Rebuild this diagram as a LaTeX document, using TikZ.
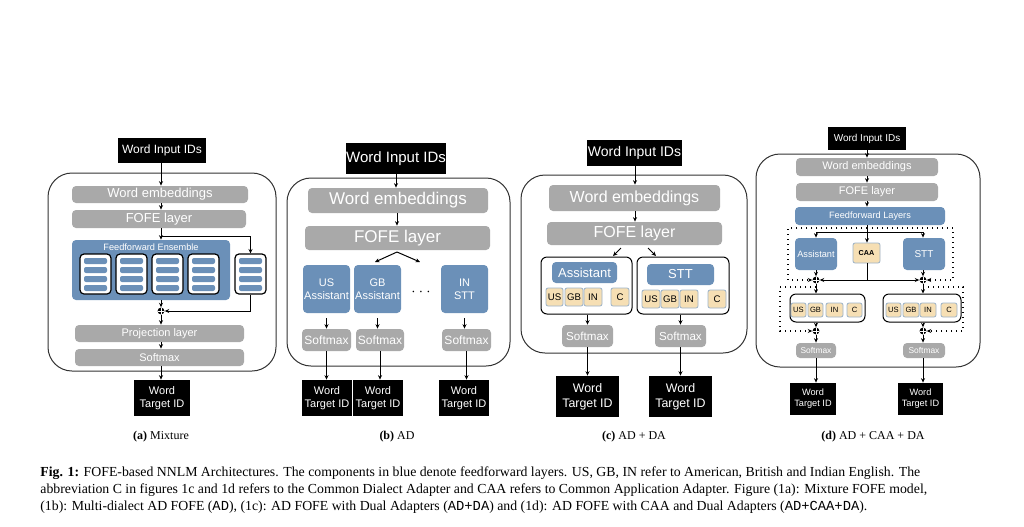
\documentclass[tikz,border=0pt]{standalone}
\usepackage{fontspec}
\setmainfont{Liberation Serif}
\setsansfont{Liberation Sans}
\setmonofont{Liberation Mono}
\usetikzlibrary{arrows.meta}
\definecolor{lgray}{HTML}{A9A9A9}
\definecolor{ffblue}{HTML}{6B90B8}
\definecolor{chipc}{HTML}{F6DFB4}
\definecolor{chipb}{HTML}{9DB3C8}
% box from pixel corners
\newcommand{\bx}[7]{\node[#2, minimum width={(#5-#3)*0.5pt}, minimum height={(#6-#4)*0.5pt}] (#1) at ({(#3+#5)/2},{(#4+#6)/2}) {#7};}
\tikzset{
  fs/.style={font=\sffamily\fontsize{#1}{\the\dimexpr #1pt*6/5\relax}\selectfont},
  blk/.style={fill=black, text=white, inner sep=0pt, align=center},
  gry/.style={fill=lgray, text=white, inner sep=0pt, rounded corners=2pt, align=center},
  blu/.style={fill=ffblue, text=white, inner sep=0pt, rounded corners=2pt, align=center},
  chip/.style={fill=chipc, draw=chipb, line width=0.4pt, text=black, inner sep=0pt, rounded corners=1pt},
  wbox/.style={fill=white, draw=black, line width=0.6pt, rounded corners=2pt, inner sep=0pt},
  grp/.style={draw=black, line width=0.5pt, rounded corners=3pt, inner sep=0pt},
  outer/.style={draw=black!80, line width=0.5pt, rounded corners=12pt, inner sep=0pt},
  arr/.style={-{Stealth[length=2.2pt,width=2pt]}, line width=0.5pt},
  dotarr/.style={arr, dotted, line width=0.6pt},
  plus/.style={circle, fill=black, minimum size=3.4pt, inner sep=0pt,
    path picture={\draw[white, line width=0.5pt] (path picture bounding box.north) -- (path picture bounding box.south)
      (path picture bounding box.west) -- (path picture bounding box.east);}},
}
\begin{document}
\begin{tikzpicture}[x=0.5pt, y=-0.5pt]
\useasboundingbox[fill=white] (0,0) rectangle (1024,526);

% (a) Mixture
\bx{boxA}{outer}{48}{173}{276}{371}{}
\bx{inA}{blk, fs=6}{118}{138}{206}{163}{Word Input IDs}
\bx{embA}{gry, fs=6.5}{72}{186}{248}{203}{Word embeddings}
\bx{fofeA}{gry, fs=6.5}{72}{210}{246}{228}{FOFE layer}
\bx{ensA}{blu}{72}{240}{230}{300}{}
\node[fs=4.6, text=white] (ensT) at (151,247) {Feedforward Ensemble};
\foreach \i/\x in {1/80,2/116,3/152,4/188,5/235}{
  \bx{ffA\i}{wbox}{\x}{254}{\x+31}{294}{}
  \foreach \y in {258,267,276,285}
    \fill[ffblue, rounded corners=1pt] (\x+4,\y) rectangle (\x+27,\y+6);
}
\node[plus] (pA) at (161,311) {};
\bx{projA}{gry, fs=5.5}{75}{325}{244}{342}{Projection layer}
\bx{smA}{gry, fs=5.5}{75}{349}{244}{366}{Softmax}
\bx{outA}{blk, fs=5.5}{134}{380}{190}{416}{Word\\Target ID}
\coordinate (brA) at (161,236);
\draw[arr] (pA |- inA.south) -- (pA |- embA.north);
\draw[arr] (pA |- embA.south) -- (pA |- fofeA.north);
\draw[arr] (pA |- fofeA.south) -- (pA |- ensA.north);
\draw[arr] (brA) -| (ffA5.north);
\draw[arr] (pA |- ensA.south) -- (pA);
\draw[arr] (ffA5.south) |- (pA.east);
\draw[arr] (pA) -- (pA |- projA.north);
\draw[arr] (pA |- projA.south) -- (pA |- smA.north);
\draw[arr] (pA |- smA.south) -- (pA |- outA.north);
\node[font=\fontsize{6}{7}\selectfont] (capA) at (161,437) {\textbf{(a)} Mixture};

% (b) AD
\bx{boxB}{outer}{287}{178}{510}{366}{}
\bx{inB}{blk, fs=7.5}{346}{143}{446}{174}{Word Input IDs}
\bx{embB}{gry, fs=8.5}{308}{188}{488}{213}{Word embeddings}
\bx{fofeB}{gry, fs=8.5}{305}{226}{490}{250}{FOFE layer}
\bx{usB}{blu, fs=5.5}{303}{265}{350}{313}{US\\Assistant}
\bx{gbB}{blu, fs=5.5}{354}{265}{401}{313}{GB\\Assistant}
\node[fs=7] (dotB) at (421,292) {$\cdots$};
\bx{inB2}{blu, fs=5.5}{441}{265}{488}{313}{IN\\STT}
\coordinate (brB) at (397,252);
\draw[arr] (inB) -- (inB |- embB.north);
\draw[arr] (brB |- embB.south) -- (brB |- fofeB.north);
\draw[arr] (brB) -- (375,262);
\draw[arr] (brB) -- (420,262);
\foreach \n/\a/\b in {1/302/351,2/356/404,3/442/491}{
  \bx{smB\n}{gry, fs=6}{\a}{329}{\b}{351}{Softmax}
}
\foreach \n/\a/\b in {1/302/352,2/353/403,3/439/489}{
  \bx{outB\n}{blk, fs=5.5}{\a}{380}{\b}{416}{Word\\Target ID}
}
\draw[arr] (usB.south |- 0,318) -- (usB.south |- smB1.north);
\draw[arr] (gbB.south |- 0,318) -- (gbB.south |- smB2.north);
\draw[arr] (inB2.south |- 0,318) -- (inB2.south |- smB3.north);
\foreach \n in {1,2,3}{ \draw[arr] (smB\n) -- (smB\n |- outB\n.north); }
\node[font=\fontsize{6}{7}\selectfont] (capB) at (397,437) {\textbf{(b)} AD};

% (c) AD + DA
\bx{boxC}{outer}{521}{175}{747}{353}{}
\bx{inC}{blk, fs=7}{587}{140}{682}{166}{Word Input IDs}
\bx{embC}{gry, fs=8}{549}{185}{720}{211}{Word embeddings}
\bx{fofeC}{gry, fs=8}{547}{222}{722}{245}{FOFE layer}
\bx{grpC1}{grp}{541}{257}{632}{314}{}
\bx{grpC2}{grp}{637}{257}{729}{314}{}
\bx{asC}{blu, fs=6.5}{552}{262}{617}{283}{Assistant}
\bx{sttC}{blu, fs=6.5}{647}{264}{714}{285}{STT}
\foreach \c/\t/\a/\b in {us/US/546/563,gb/GB/565/583,in/IN/584/602,c/C/611/629}{
  \bx{cC1\c}{chip, fs=4.8}{\a}{288}{\b}{306}{\t}
}
\foreach \c/\t/\a/\b in {us/US/642/660,gb/GB/661/679,in/IN/680/698,c/C/708/726}{
  \bx{cC2\c}{chip, fs=4.8}{\a}{290}{\b}{308}{\t}
}
\bx{smC1}{gry, fs=5.8}{562}{325}{613}{347}{Softmax}
\bx{smC2}{gry, fs=5.8}{655}{325}{706}{347}{Softmax}
\bx{outC1}{blk, fs=6.2}{556}{376}{619}{417}{Word\\Target ID}
\bx{outC2}{blk, fs=6.2}{649}{376}{712}{417}{Word\\Target ID}
\coordinate (brC) at (635,200);
\draw[arr] (brC |- inC.south) -- (brC |- embC.north);
\draw[arr] (brC |- embC.south) -- (brC |- fofeC.north);
\draw[arr] (621,248) -- (613,256);
\draw[arr] (648,248) -- (656,256);
\draw[arr] (grpC1.south -| smC1) -- (smC1.north);
\draw[arr] (grpC2.south -| smC2) -- (smC2.north);
\draw[arr] (smC1) -- (smC1 |- outC1.north);
\draw[arr] (smC2) -- (smC2 |- outC2.north);
\node[font=\fontsize{6}{7}\selectfont] (capC) at (634,437) {\textbf{(c)} AD + DA};

% (d) AD + CAA + DA
\bx{boxD}{outer}{756}{154}{980}{367}{}
\bx{inD}{blk, fs=5}{828}{127}{906}{150}{Word Input IDs}
\bx{embD}{gry, fs=5.5}{796}{158}{938}{176}{Word embeddings}
\bx{fofeD}{gry, fs=5.5}{796}{183}{938}{201}{FOFE layer}
\bx{ffD}{blu, fs=4.6}{795}{207}{945}{225}{Feedforward Layers}
\bx{asD}{blu, fs=4.6}{795}{238}{837}{270}{Assistant}
\bx{caaD}{chip, fs=3.6}{853}{243}{880}{263}{\bfseries CAA}
\bx{sttD}{blu, fs=5}{903}{238}{945}{270}{STT}
\node[plus] (pD1) at (816,280) {};
\node[plus] (pD2) at (923,280) {};
\bx{grpD1}{grp}{790}{294}{865}{322}{}
\bx{grpD2}{grp}{883}{294}{961}{322}{}
\foreach \c/\t/\a/\b in {us/US/791/806,gb/GB/808/823,in/IN/826/843,c/C/847/862}{
  \bx{cD1\c}{chip, fs=3.8}{\a}{303}{\b}{317}{\t}
}
\foreach \c/\t/\a/\b in {us/US/886/901,gb/GB/903/919,in/IN/920/936,c/C/941/957}{
  \bx{cD2\c}{chip, fs=3.8}{\a}{303}{\b}{317}{\t}
}
\node[plus] (pD3) at (816,331) {};
\node[plus] (pD4) at (923,331) {};
\bx{smD1}{gry, fs=4.2}{796}{343}{836}{358}{Softmax}
\bx{smD2}{gry, fs=4.2}{903}{343}{945}{358}{Softmax}
\bx{outD1}{blk, fs=4.6}{790}{383}{836}{415}{Word\\Target ID}
\bx{outD2}{blk, fs=4.6}{898}{383}{943}{415}{Word\\Target ID}
\coordinate (brD) at (867,232);
\coordinate (caD) at (867,280);
\draw[arr] (brD |- inD.south) -- (brD |- embD.north);
\draw[arr] (brD |- embD.south) -- (brD |- fofeD.north);
\draw[arr] (brD |- fofeD.south) -- (brD |- ffD.north);
\draw[line width=0.5pt] (brD |- ffD.south) -- (brD);
\draw[arr] (brD) -- (brD |- caaD.north);
\draw[arr] (brD) -| (pD1 |- asD.north);
\draw[arr] (brD) -| (pD2 |- sttD.north);
\draw[arr] (pD1 |- asD.south) -- (pD1);
\draw[arr] (pD2 |- sttD.south) -- (pD2);
\draw[line width=0.5pt] (brD |- caaD.south) -- (caD);
\draw[arr] (caD) -- (pD1);
\draw[arr] (caD) -- (pD2);
\draw[dotarr] (brD |- 0,228) -| (788,280) -- (pD1);
\draw[dotarr] (brD |- 0,228) -| (953,280) -- (pD2);
\draw[arr] (pD1) -- (pD1 |- grpD1.north);
\draw[arr] (pD2) -- (pD2 |- grpD2.north);
\draw[dotarr] (pD1 |- 0,287) -| (780,331) -- (pD3);
\draw[dotarr] (pD2 |- 0,287) -| (963,331) -- (pD4);
\draw[arr] (pD3 |- grpD1.south) -- (pD3);
\draw[arr] (pD4 |- grpD2.south) -- (pD4);
\draw[arr] (pD3) -- (pD3 |- smD1.north);
\draw[arr] (pD4) -- (pD4 |- smD2.north);
\draw[arr] (pD3 |- smD1.south) -- (pD3 |- outD1.north);
\draw[arr] (pD4 |- smD2.south) -- (pD4 |- outD2.north);
\node[font=\fontsize{6}{7}\selectfont] (capD) at (873,437) {\textbf{(d)} AD + CAA + DA};

% figure caption
\begin{scope}[every node/.style={anchor=west, inner sep=0pt, font=\fontsize{6.9}{8}\selectfont}]
\node (cap1) at (40,473) {\textbf{Fig. 1:} FOFE-based NNLM Architectures. The components in blue denote feedforward layers. US, GB, IN refer to American, British and Indian English. The};
\node (cap2) at (40,490) {abbreviation C in figures 1c and 1d refers to the Common Dialect Adapter and CAA refers to Common Application Adapter. Figure (1a): Mixture FOFE model,};
\node (cap3) at (40,507) {(1b): Multi-dialect AD FOFE (\texttt{AD}), (1c): AD FOFE with Dual Adapters (\texttt{AD+DA}) and (1d): AD FOFE with CAA and Dual Adapters (\texttt{AD+CAA+DA}).};
\end{scope}
\end{tikzpicture}
\end{document}
